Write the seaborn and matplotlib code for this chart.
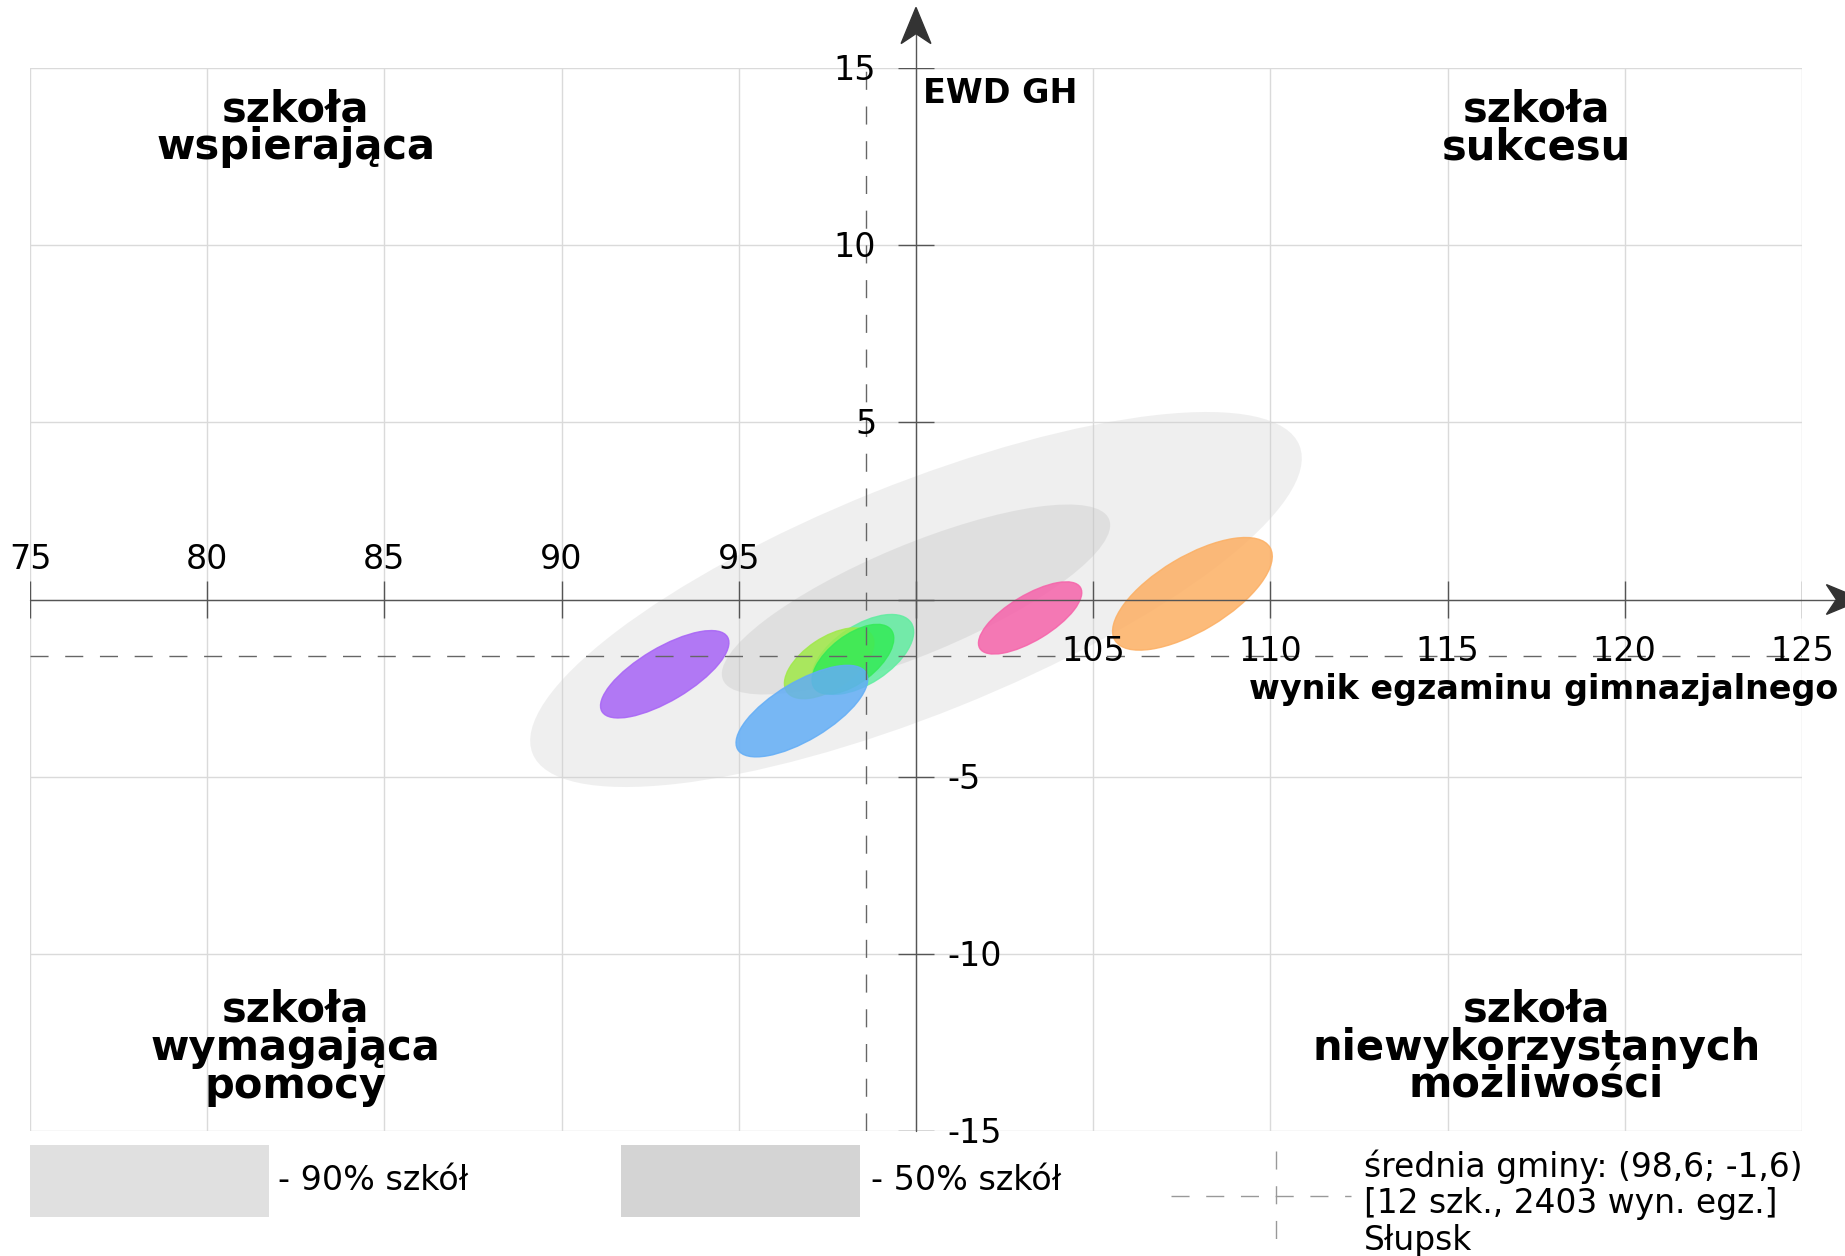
import numpy as np
import pandas as pd
import matplotlib
matplotlib.use("Agg")
import matplotlib.pyplot as plt
import seaborn as sns
from matplotlib.patches import Ellipse, Polygon, Rectangle

# ---------------- data ----------------
x_ticks = [75, 80, 85, 90, 95, 100, 105, 110, 115, 120, 125]
y_ticks = [-15, -10, -5, 0, 5, 10, 15]
mean_x = 98.6
mean_y = -1.6

# reference regions (90% / 50% of schools)
region_names = ["90% szkół", "50% szkół"]
region_cx = [100.0, 100.0]
region_cy = [0.0, 0.0]
region_a = [11.66, 5.90]      # semi-major axis
region_b = [3.25, 1.55]       # semi-minor axis
region_angle = [21.9, 22.6]   # degrees
region_colors = ["#cfcfcf", "#c0c0c0"]

# schools (confidence ellipses)
school_cx = [98.50, 97.55, 98.22, 96.78, 92.91, 103.22, 107.80]
school_cy = [-1.55, -1.80, -1.685, -3.15, -2.11, -0.52, 0.16]
school_a = [1.63, 1.44, 1.36, 2.11, 2.06, 1.66, 2.55]
school_b = [0.82, 0.72, 0.67, 0.82, 0.75, 0.64, 1.05]
school_angle = [33.3, 33.7, 37.5, 30.9, 30.7, 31.2, 30.9]
school_colors = ["#60eda0", "#a0e948", "#34ea57", "#62adf6", "#a763f6", "#f663aa", "#fcaf63"]

quadrant_texts = ["szkoła\nwspierająca", "szkoła\nsukcesu",
                  "szkoła\nwymagająca\npomocy", "szkoła\nniewykorzystanych\nmożliwości"]
quadrant_x = [82.5, 117.5, 82.5, 117.5]
quadrant_y = [13.3, 13.3, -12.65, -12.65]

legend_lines = ["średnia gminy: (98,6; -1,6)", "[12 szk., 2403 wyn. egz.]", "Słupsk"]

# ---------------- style ----------------
sns.set_theme(style="white")
plt.rcParams["font.family"] = ["DejaVu Sans"]
plt.rcParams["text.color"] = "black"

W, H = 1845, 1256
fig = plt.figure(figsize=(W / 100, H / 100), dpi=100)
ax_left, ax_right, ax_top, ax_bottom = 30, 1802, 68, 1131
ax = fig.add_axes([ax_left / W, 1 - ax_bottom / H, (ax_right - ax_left) / W, (ax_bottom - ax_top) / H])
ax.set_xlim(75, 125)
ax.set_ylim(-15, 15)
for s in ax.spines.values():
    s.set_visible(False)
ax.set_xticks(x_ticks)
ax.set_yticks(y_ticks)
ax.tick_params(length=0, labelbottom=False, labelleft=False)
ax.grid(True, color="#dadada", lw=1.0, zorder=0)
ax.set_axisbelow(True)

regions = pd.DataFrame(dict(cx=region_cx, cy=region_cy, a=region_a, b=region_b,
                            ang=region_angle, col=region_colors))
for _, r in regions.iterrows():
    ax.add_patch(Ellipse((r.cx, r.cy), 2 * r.a, 2 * r.b, angle=r.ang,
                         facecolor=r.col, edgecolor="none", alpha=0.32, zorder=1))

schools = pd.DataFrame(dict(cx=school_cx, cy=school_cy, a=school_a, b=school_b,
                            ang=school_angle, col=school_colors))
for _, r in schools.iterrows():
    ax.add_patch(Ellipse((r.cx, r.cy), 2 * r.a, 2 * r.b, angle=r.ang,
                         facecolor=r.col, edgecolor=r.col, lw=1.0, alpha=0.85, zorder=2))

# mean lines
dash = (0, (13, 12))
ax.axvline(mean_x, color="#666666", lw=1.0, ls=dash, zorder=3)
ax.axhline(mean_y, color="#666666", lw=1.0, ls=dash, zorder=3)

# axes through origin
axis_col = "#555555"
ax.plot([75, 126.7], [0, 0], color=axis_col, lw=1.0, clip_on=False, zorder=4)
ax.plot([100, 100], [-15, 16.6], color=axis_col, lw=1.0, clip_on=False, zorder=4)
ax.vlines(x_ticks, -0.51, 0.51, color=axis_col, lw=1.0, zorder=4)
ax.hlines(y_ticks, 99.49, 100.51, color=axis_col, lw=1.0, zorder=4)

# arrow heads
hw, hl, notch = 0.42, 1.02, 0.28
ax.add_patch(Polygon([(100, 16.71), (100 - hw, 16.71 - hl), (100, 16.71 - hl + notch),
                      (100 + hw, 16.71 - hl)], closed=True, color="#333333",
                     clip_on=False, zorder=5))
tx = 126.71
ax.add_patch(Polygon([(tx, 0), (tx - hl, hw), (tx - hl + notch, 0), (tx - hl, -hw)],
                     closed=True, color="#333333", clip_on=False, zorder=5))

# tick labels
tick_fs = 24
dy = 0.07  # small baseline correction
for x in x_ticks:
    if x < 100:
        ax.text(x, 1.2 - dy, str(x), ha="center", va="center", fontsize=tick_fs, zorder=6)
    elif x > 100:
        ax.text(x, -1.41 - dy, str(x), ha="center", va="center", fontsize=tick_fs, zorder=6)
for y in y_ticks:
    if y > 0:
        ax.text(98.88, y - dy, str(y), ha="right", va="center", fontsize=tick_fs, zorder=6)
    elif y < 0:
        ax.text(100.89, y - dy, str(y), ha="left", va="center", fontsize=tick_fs, zorder=6)

ax.text(100.2, 14.27, "EWD GH", ha="left", va="center", fontsize=24,
        fontweight="bold", zorder=6)
ax.text(117.72, -2.54, "wynik egzaminu gimnazjalnego", ha="center", va="center",
        fontsize=24, fontweight="bold", zorder=6, clip_on=False)

for t, x, y in zip(quadrant_texts, quadrant_x, quadrant_y):
    ax.text(x, y, t, ha="center", va="center", fontsize=30, fontweight="bold",
            linespacing=0.88, zorder=6)

# ---------------- legend (pixel coordinates) ----------------
lax = fig.add_axes([0, 0, 1, 1], facecolor="none")
lax.set_xlim(0, W)
lax.set_ylim(H, 0)
lax.axis("off")
lax.add_patch(Rectangle((29.5, 1145), 239, 72, facecolor="#e0e0e0", edgecolor="none"))
lax.add_patch(Rectangle((621, 1145), 239, 72, facecolor="#d4d4d4", edgecolor="none"))
lax.text(277.7, 1180.5, "- " + region_names[0], ha="left", va="center", fontsize=24)
lax.text(870.7, 1180.5, "- " + region_names[1], ha="left", va="center", fontsize=24)
lax.plot([1171, 1351], [1195.5, 1195.5], color="#999999", lw=1.0, ls=dash)
lax.plot([1275.5, 1275.5], [1151, 1241], color="#999999", lw=1.0, ls=dash)
for i, line in enumerate(legend_lines):
    lax.text(1364, 1166.5 + 37 * i, line, ha="left", va="center", fontsize=23.7)

fig.savefig("out.png", dpi=100)
